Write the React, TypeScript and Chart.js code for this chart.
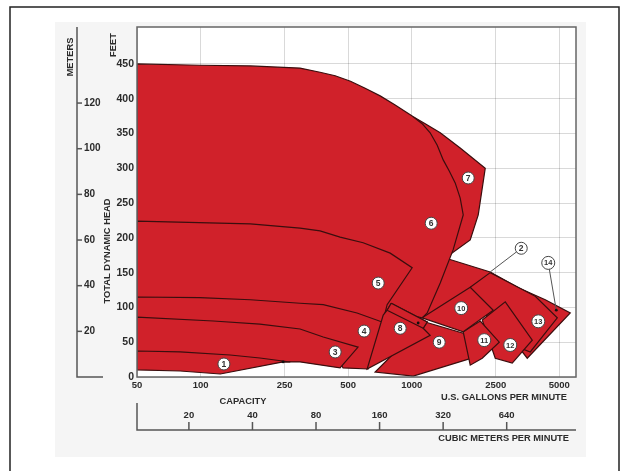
import React, { useEffect, useRef } from "react";
import { Chart, registerables } from "chart.js";

Chart.register(...registerables);

const FONT = "'Liberation Sans', Arial, sans-serif";
const RED = "#d0212a";
const OUTLINE = "#3a0e0e";
const GRID = "rgba(0,0,0,0.15)";
const TEXT = "#2b2b2b";

// axis ticks
const gpmTicks = [50, 100, 250, 500, 1000, 2500, 5000];
const feetTicks = [0, 50, 100, 150, 200, 250, 300, 350, 400, 450];
const meterTicks = [20, 40, 60, 80, 100, 120];
const cubicTicks = [20, 40, 80, 160, 320, 640];
const GPM_MIN = 50;
const GPM_MAX = 6000;
const FEET_MAX = 503;
const FT_PER_M = 3.28084;
const GPM_PER_M3 = 4.4029;

type P = [number, number]; // [US GPM, feet]

// pump coverage regions (GPM, feet of head)
const pump7: P[] = [[1017, 374], [1159, 364], [1365, 351], [1697, 329], [1935, 315], [2230, 300], [2066, 233], [1893, 197], [1441, 171], [1223, 161], [1097, 254]];
const pump2: P[] = [[1441, 171], [2355, 151], [3161, 129], [2433, 96], [1121, 85], [1365, 154]];
const pump6: P[] = [[50, 450], [99, 448], [172, 447], [296, 444], [368, 438], [434, 433], [513, 425], [602, 415], [709, 404], [835, 391], [1005, 375], [1121, 364], [1223, 351], [1321, 333], [1410, 312], [1506, 296], [1607, 279], [1697, 257], [1754, 233], [1572, 183], [1365, 135], [1184, 92], [1121, 85], [765, 96], [725, 76], [551, 88], [296, 102], [50, 111]];
const pump5: P[] = [[50, 224], [172, 220], [296, 214], [368, 210], [458, 201], [589, 193], [791, 178], [1005, 157], [765, 104], [725, 76], [551, 88], [296, 102], [50, 111]];
const pump4: P[] = [[50, 115], [99, 114], [172, 111], [296, 106], [381, 104], [551, 92], [725, 79], [622, 11.5], [473, 13], [411, 46], [296, 65], [50, 82]];
const pump3: P[] = [[50, 86], [115, 80.5], [191, 76], [296, 69], [381, 57.5], [557, 43], [458, 13], [296, 21.6], [172, 21.6], [50, 30]];
const pump1: P[] = [[50, 37.4], [80, 36], [138, 31.6], [191, 27.3], [266, 21.6], [246, 21.6], [124, 4.3], [80, 8.6], [50, 10.1]];
const pump14: P[] = [[3161, 129], [4292, 111], [5636, 92], [3526, 27], [2774, 68]];
const pump13: P[] = [[1893, 129], [2355, 150], [3848, 116], [4892, 85], [3644, 36], [2626, 53]];
const pump12: P[] = [[2158, 82], [2774, 108], [3724, 53], [2994, 20], [2487, 27]];
const pump9: P[] = [[1159, 79], [1754, 63], [2066, 30], [1017, 1.4], [671, 7.2]];
const pump11: P[] = [[1754, 65], [2112, 80.5], [2598, 50], [2158, 27], [1893, 17]];
const pump10: P[] = [[1121, 85], [1893, 129], [2433, 96], [1754, 65]];
const pump8: P[] = [[800, 106], [1184, 79], [1134, 70], [1223, 60], [615, 11.5], [733, 89], [765, 96]];
const pump8top: P[] = [[800, 106], [1184, 79], [1134, 70], [765, 96]];

// drawn bottom first
const regions: P[][] = [pump7, pump2, pump6, pump5, pump4, pump3, pump1, pump14, pump13, pump12, pump9, pump11, pump10, pump8, pump8top];

// numbered markers
const markerNames = ["1", "2", "3", "4", "5", "6", "7", "8", "9", "10", "11", "12", "13", "14"];
const markerGpm = [129, 3302, 434, 595, 694, 1237, 1852, 882, 1350, 1716, 2205, 2929, 3977, 4433];
const markerFt = [18.7, 185, 36, 66, 135, 221, 286, 70, 50, 99, 53, 46, 80, 164];

// leader lines and dots
const leader2: P[] = [[3302, 185], [2355, 151]];
const leader14: P[] = [[4433, 164], [4839, 96]];
const dots: P[] = [[1073, 77.6], [246, 21.6], [4839, 96]];

const toXY = (pts: P[]) => pts.map(([x, y]) => ({ x, y }));

const decor = {
  id: "decor",
  beforeDraw(chart: any) {
    const { ctx, chartArea: a, width, height } = chart;
    ctx.save();
    ctx.fillStyle = "#ffffff";
    ctx.fillRect(0, 0, width, height);
    ctx.fillStyle = "#f5f5f5";
    ctx.fillRect(a.left - 82, a.top - 5, a.right - a.left + 92, a.bottom - a.top + 85);
    ctx.fillStyle = "#ffffff";
    ctx.fillRect(a.left, a.top, a.right - a.left, a.bottom - a.top);
    ctx.strokeStyle = "#222";
    ctx.lineWidth = 1.5;
    ctx.beginPath();
    ctx.moveTo(10, height + 2);
    ctx.lineTo(10, 7);
    ctx.lineTo(width - 2, 7);
    ctx.lineTo(width - 2, height + 2);
    ctx.stroke();
    ctx.restore();
  },
  afterDraw(chart: any) {
    const { ctx, chartArea: a } = chart;
    ctx.save();
    ctx.strokeStyle = "#666";
    ctx.lineWidth = 1.5;
    ctx.strokeRect(a.left, a.top, a.right - a.left, a.bottom - a.top);

    ctx.fillStyle = TEXT;
    ctx.strokeStyle = "#555";
    ctx.lineWidth = 1.5;

    // meters axis
    const ym = chart.scales.ym;
    const mx = a.left - 60;
    ctx.beginPath();
    ctx.moveTo(mx, a.top);
    ctx.lineTo(mx, a.bottom);
    ctx.lineTo(mx + 26, a.bottom);
    ctx.stroke();
    ctx.font = `bold 10px ${FONT}`;
    ctx.textAlign = "left";
    ctx.textBaseline = "middle";
    for (const m of meterTicks) {
      const y = ym.getPixelForValue(m);
      ctx.beginPath();
      ctx.moveTo(mx, y);
      ctx.lineTo(mx + 5, y);
      ctx.stroke();
      ctx.fillText(String(m), mx + 7, y);
    }

    // cubic meters axis
    const xm = chart.scales.xm;
    const cy = a.bottom + 53;
    ctx.beginPath();
    ctx.moveTo(a.left, a.bottom + 26);
    ctx.lineTo(a.left, cy);
    ctx.lineTo(a.right, cy);
    ctx.stroke();
    ctx.textAlign = "center";
    ctx.font = `bold 9.5px ${FONT}`;
    for (const v of cubicTicks) {
      const x = xm.getPixelForValue(v);
      ctx.beginPath();
      ctx.moveTo(x, cy);
      ctx.lineTo(x, cy - 8);
      ctx.stroke();
      ctx.fillText(String(v), x, cy - 15);
    }

    // titles
    ctx.font = `bold 9.3px ${FONT}`;
    ctx.textAlign = "center";
    ctx.fillText("CAPACITY", a.left + 106, a.bottom + 24);
    ctx.textAlign = "right";
    ctx.fillText("U.S. GALLONS PER MINUTE", a.right - 9, a.bottom + 20);
    ctx.fillText("CUBIC METERS PER MINUTE", a.right - 7, a.bottom + 61);

    const vText = (s: string, x: number, y: number) => {
      ctx.save();
      ctx.translate(x, y);
      ctx.rotate(-Math.PI / 2);
      ctx.textAlign = "center";
      ctx.textBaseline = "middle";
      ctx.fillText(s, 0, 0);
      ctx.restore();
    };
    vText("FEET", a.left - 24, a.top + 18);
    vText("METERS", a.left - 67, a.top + 30);
    vText("TOTAL DYNAMIC HEAD", a.left - 30, a.top + 224);

    // numbered circles
    const meta = chart.getDatasetMeta(chart.data.datasets.length - 1);
    meta.data.forEach((el: any, i: number) => {
      const name = markerNames[i];
      const r = name.length > 1 ? 6.5 : 6;
      ctx.beginPath();
      ctx.arc(el.x, el.y, r, 0, Math.PI * 2);
      ctx.fillStyle = "#ffffff";
      ctx.fill();
      ctx.lineWidth = 1;
      ctx.strokeStyle = "#444";
      ctx.stroke();
      ctx.fillStyle = "#333";
      ctx.font = `bold ${name.length > 1 ? 7.5 : 8.5}px ${FONT}`;
      ctx.textAlign = "center";
      ctx.textBaseline = "middle";
      ctx.fillText(name, el.x, el.y + 0.5);
    });
    ctx.restore();
  },
};

export default function App() {
  const ref = useRef<HTMLCanvasElement | null>(null);
  useEffect(() => {
    if (!ref.current) return;
    Chart.defaults.font.family = FONT;
    const n = regions.length;
    const datasets: any[] = regions.map((pts, i) => ({
      type: "scatter",
      data: toXY([...pts, pts[0]]),
      showLine: true,
      fill: "shape",
      backgroundColor: RED,
      borderColor: OUTLINE,
      borderWidth: 1.2,
      pointRadius: 0,
      tension: 0,
      order: 100 + n - i,
    }));
    datasets.push({
      type: "scatter",
      data: toXY(leader2),
      showLine: true,
      fill: false,
      borderColor: "#555",
      borderWidth: 1,
      pointRadius: 0,
      order: 5,
    });
    datasets.push({
      type: "scatter",
      data: toXY(leader14),
      showLine: true,
      fill: false,
      borderColor: "#555",
      borderWidth: 1,
      pointRadius: 0,
      order: 4,
    });
    datasets.push({
      type: "scatter",
      data: toXY(dots),
      showLine: false,
      pointRadius: 1.4,
      pointBackgroundColor: "#111",
      pointBorderWidth: 0,
      order: 3,
    });
    datasets.push({
      type: "scatter",
      data: markerGpm.map((x, i) => ({ x, y: markerFt[i] })),
      showLine: false,
      pointRadius: 0,
      order: 1,
    });

    const chart = new Chart(ref.current, {
      type: "scatter",
      data: { datasets },
      plugins: [decor],
      options: {
        animation: false,
        responsive: true,
        maintainAspectRatio: false,
        layout: { padding: { left: 0, right: 45, top: 27, bottom: 0 } },
        plugins: { legend: { display: false }, tooltip: { enabled: false } },
        scales: {
          x: {
            type: "logarithmic",
            min: GPM_MIN,
            max: GPM_MAX,
            position: "bottom",
            z: 1,
            afterBuildTicks: (s: any) => {
              s.ticks = gpmTicks.map((v) => ({ value: v }));
            },
            afterFit: (s: any) => {
              s.height = 94;
            },
            grid: { color: GRID, drawTicks: false, lineWidth: 1 },
            border: { display: false },
            ticks: {
              autoSkip: false,
              maxRotation: 0,
              padding: 3,
              color: TEXT,
              font: { family: FONT, size: 9.5, weight: "bold" },
              callback: (v: any) => String(v),
            },
          },
          y: {
            type: "linear",
            min: 0,
            max: FEET_MAX,
            position: "left",
            z: 1,
            afterBuildTicks: (s: any) => {
              s.ticks = feetTicks.map((v) => ({ value: v }));
            },
            afterFit: (s: any) => {
              s.width = 137;
            },
            grid: { color: GRID, drawTicks: false, lineWidth: 1 },
            border: { display: false },
            ticks: {
              padding: 3,
              color: TEXT,
              font: { family: FONT, size: 10.5, weight: "bold" },
              callback: (v: any) => String(v),
            },
          },
          ym: {
            type: "linear",
            display: false,
            position: "left",
            min: 0,
            max: FEET_MAX / FT_PER_M,
          },
          xm: {
            type: "logarithmic",
            display: false,
            position: "bottom",
            min: GPM_MIN / GPM_PER_M3,
            max: GPM_MAX / GPM_PER_M3,
          },
        },
      } as any,
    });
    return () => chart.destroy();
  }, []);

  return (
    <div style={{ position: "fixed", left: 0, top: 0, width: 621, height: 471, background: "#fff" }}>
      <canvas ref={ref} />
    </div>
  );
}
